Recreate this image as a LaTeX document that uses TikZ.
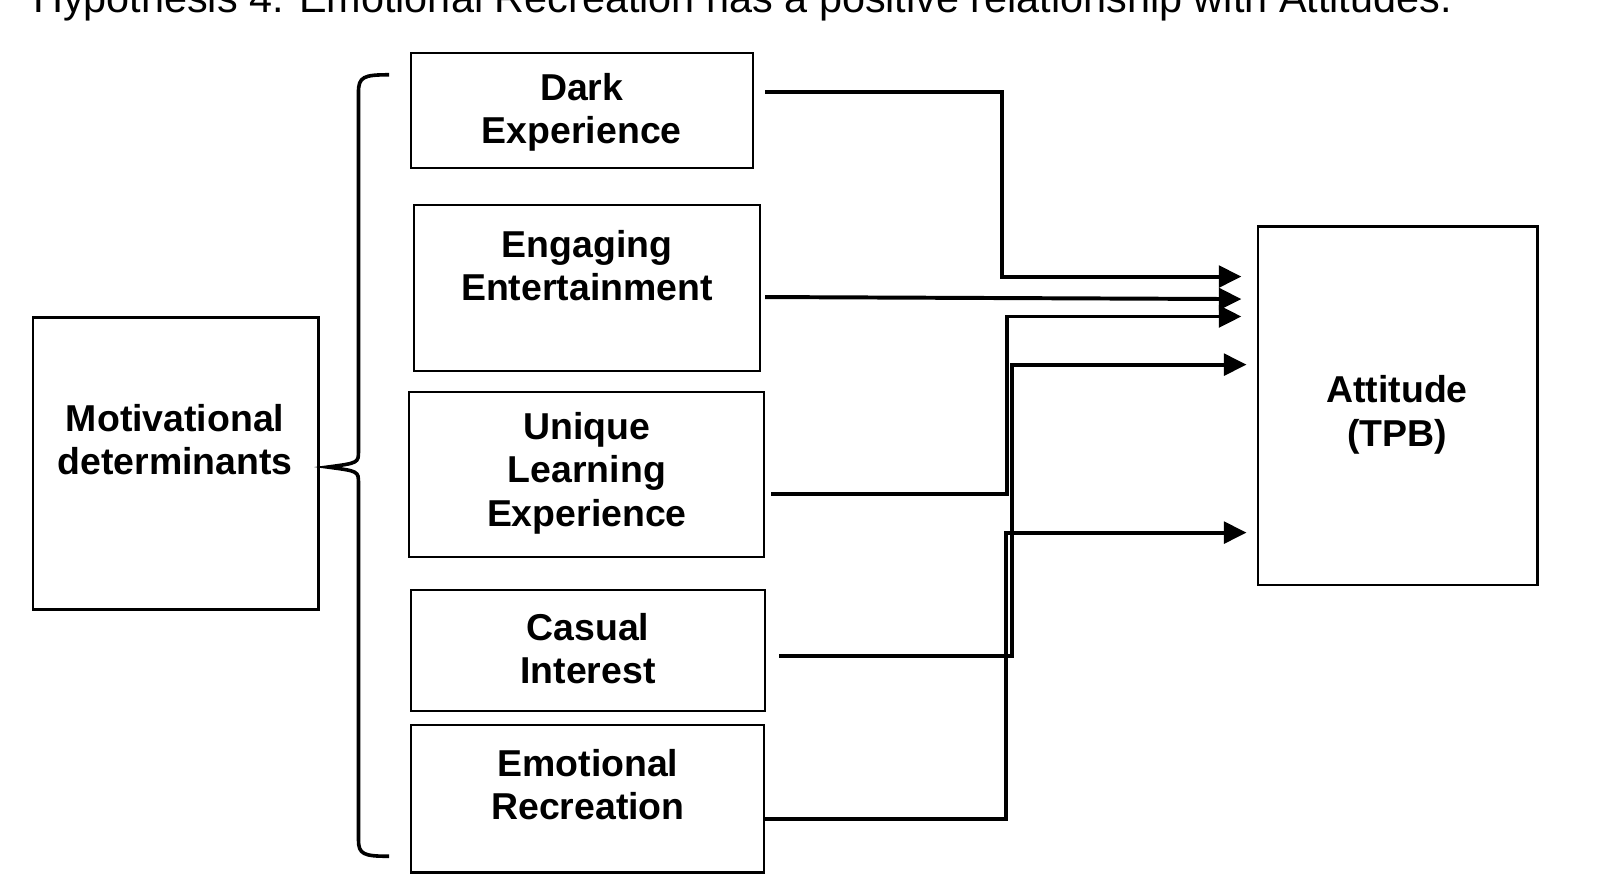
\documentclass[tikz,border=0pt]{standalone}
\usepackage{fontspec}
\setmainfont{Liberation Sans}
\usetikzlibrary{arrows.meta,decorations.pathreplacing}
\begin{document}
\begin{tikzpicture}[x=0.02cm,y=-0.02cm,
    box/.style={draw,line width=1.3pt,inner sep=0pt},
    lbl/.style={align=center,font=\fontsize{20.8}{24}\selectfont\bfseries},
    link/.style={line width=2.2pt,-{Triangle[length=0.44cm,width=0.42cm]}}]
    \useasboundingbox (0,0) rectangle (1568,853);

    % titel
    \node[anchor=base west,font=\fontsize{23}{27}\selectfont,inner sep=0pt] (hyp) at (32,12)
        {Hypothesis 4. Emotional Recreation has a positive relationship with Attitudes.};

    % kaders
    \node[box,minimum width=5.58cm,minimum height=5.7cm] (motiv) at (171.5,452.5) {};
    \node[box,minimum width=6.68cm,minimum height=2.24cm] (dark) at (568,108) {};
    \node[box,minimum width=6.76cm,minimum height=3.24cm] (engag) at (573,281) {};
    \node[box,minimum width=6.94cm,minimum height=3.22cm] (uniq) at (572.5,463.5) {};
    \node[box,minimum width=6.92cm,minimum height=2.36cm] (casual) at (574,635) {};
    \node[box,minimum width=6.9cm,minimum height=2.88cm] (emot) at (573.5,780) {};
    \node[box,minimum width=5.46cm,minimum height=7.0cm] (att) at (1364.5,396) {};

    % teksten
    \node[lbl] (tmotiv) at (171,429) {Motivational\\determinants};
    \node[lbl] (tdark) at (568,110) {Dark\\Experience};
    \node[lbl] (tengag) at (573,259) {Engaging\\Entertainment};
    \node[lbl] (tuniq) at (573,462) {Unique\\Learning\\Experience};
    \node[lbl] (tcasual) at (574,633) {Casual\\Interest};
    \node[lbl] (temot) at (574,766) {Emotional\\Recreation};
    \node[lbl] (tatt) at (1364,405) {Attitude\\(TPB)};

    % accolade
    \draw[line width=2pt] (380,73) .. controls (355,73) and (350,75) .. (350,90)
        -- (350,440) .. controls (350,452) .. (320,456)
        .. controls (350,460) .. (350,472) -- (350,820)
        .. controls (350,834) and (355,836) .. (380,836);

    % pijlen
    \coordinate (s1) at (747,90);  \coordinate (e1) at (1212,270);
    \coordinate (s2) at (747,290); \coordinate (e2) at (1212,292);
    \coordinate (s3) at (753,482); \coordinate (e3) at (1212,309);
    \coordinate (s4) at (761,640); \coordinate (e4) at (1217,356);
    \coordinate (s5) at (747,800); \coordinate (e5) at (1217,520);
    \draw[link] (s1) -- (978,90) -- (978,270) -- (e1);
    \draw[link] (s2) -- (e2);
    \draw[link] (s3) -- (983,482) -- (983,309) -- (e3);
    \draw[link] (s4) -- (988,640) -- (988,356) -- (e4);
    \draw[link] (s5) -- (982,800) -- (982,520) -- (e5);
\end{tikzpicture}
\end{document}
